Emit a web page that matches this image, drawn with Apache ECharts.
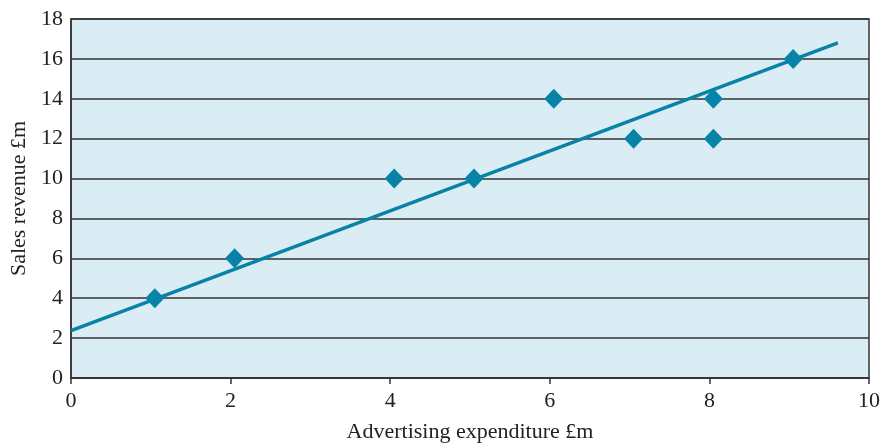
<!DOCTYPE html>
<html>
<head>
<meta charset="utf-8">
<script src="https://cdn.jsdelivr.net/npm/echarts@6/dist/echarts.min.js"></script>
<style>
  html, body { margin: 0; padding: 0; background: #fff; }
  #chart { width: 888px; height: 444px; }
</style>
</head>
<body>
<div id="chart"></div>
<script>
// Advertising spend (£m) against sales revenue (£m)
const adSpend = [1.05, 2.05, 4.05, 5.05, 6.05, 7.05, 8.05, 8.05, 9.05];
const salesRevenue = [4, 6, 10, 10, 14, 12, 14, 12, 16];

// Fitted trend line end points
const trendX = [0, 9.61];
const trendY = [2.37, 16.8];

const xTicks = [0, 2, 4, 6, 8, 10];
const yTicks = [0, 2, 4, 6, 8, 10, 12, 14, 16, 18];

const teal = '#0683a6';
const serif = '"Liberation Serif", "DejaVu Serif", serif';

const chart = echarts.init(document.getElementById('chart'));
chart.setOption({
  animation: false,
  grid: {
    left: 71, right: 19, top: 19, bottom: 66,
    containLabel: false,
    outerBoundsMode: 'none',
    show: true,
    backgroundColor: '#daecf4',
    borderColor: '#333',
    borderWidth: 1.5
  },
  xAxis: {
    type: 'value',
    min: xTicks[0], max: xTicks[xTicks.length - 1], interval: 2,
    name: 'Advertising expenditure £m',
    nameLocation: 'middle',
    nameGap: 43,
    nameTextStyle: { fontFamily: serif, fontSize: 22, color: '#222' },
    axisLine: { lineStyle: { color: '#333', width: 1.5 } },
    axisTick: { show: true, length: 6, inside: false, lineStyle: { color: '#333', width: 1.5 } },
    axisLabel: { fontFamily: serif, fontSize: 22, color: '#222', margin: 12 },
    splitLine: { show: false }
  },
  yAxis: {
    type: 'value',
    min: yTicks[0], max: yTicks[yTicks.length - 1], interval: 2,
    name: 'Sales revenue £m',
    nameLocation: 'middle',
    nameGap: 41,
    nameTextStyle: { fontFamily: serif, fontSize: 22, color: '#222' },
    axisLine: { lineStyle: { color: '#333', width: 1.5 } },
    axisTick: { show: false },
    axisLabel: { fontFamily: serif, fontSize: 22, color: '#222', margin: 8 },
    splitLine: { show: true, lineStyle: { color: '#333', width: 1.5 } }
  },
  series: [
    {
      type: 'line',
      data: trendX.map((x, i) => [x, trendY[i]]),
      symbol: 'none',
      lineStyle: { color: teal, width: 3.5 },
      z: 2
    },
    {
      type: 'scatter',
      data: adSpend.map((x, i) => [x, salesRevenue[i]]),
      symbol: 'diamond',
      symbolSize: [19, 20],
      itemStyle: { color: teal, opacity: 1 },
      z: 3
    }
  ]
});
</script>
</body>
</html>
